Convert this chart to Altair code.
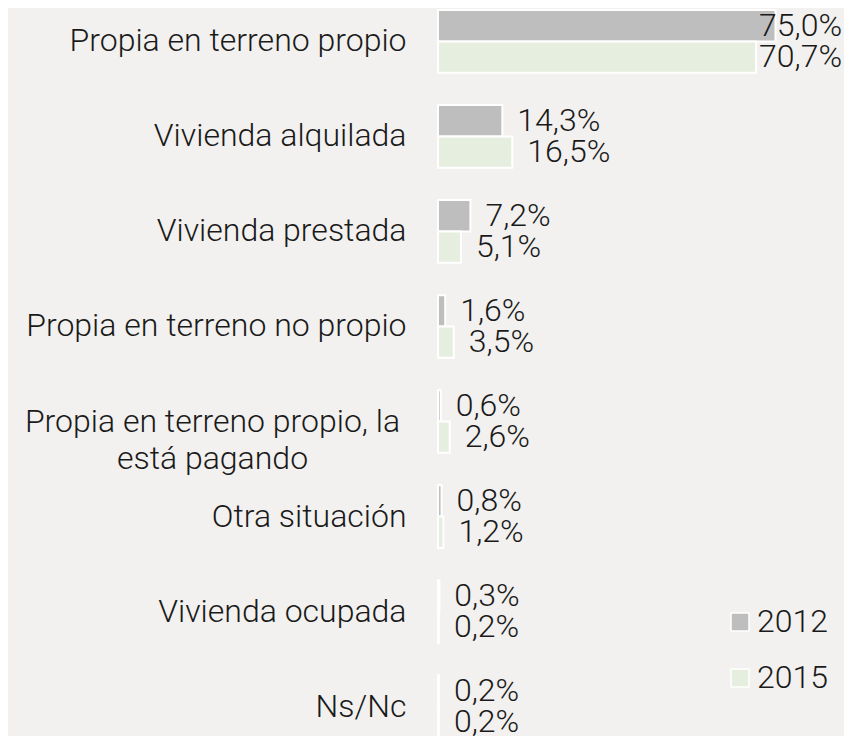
import altair as alt
import pandas as pd

categories = [
    "Propia en terreno propio",
    "Vivienda alquilada",
    "Vivienda prestada",
    "Propia en terreno no propio",
    "Propia en terreno propio, la\nestá pagando",
    "Otra situación",
    "Vivienda ocupada",
    "Ns/Nc",
]
years = ["2012", "2015"]
values_2012 = [75.0, 14.3, 7.2, 1.6, 0.6, 0.8, 0.3, 0.2]
values_2015 = [70.7, 16.5, 5.1, 3.5, 2.6, 1.2, 0.2, 0.2]
colors = ["#bebebe", "#e6eedf"]

rows = []
for c, a, b in zip(categories, values_2012, values_2015):
    rows.append({"cat": c, "year": years[0], "value": a})
    rows.append({"cat": c, "year": years[1], "value": b})
df = pd.DataFrame(rows)

FONT = "Roboto"
WEIGHT = 300
TXT = "#1a1a1a"

multi = "indexof(datum.value, '\\n') >= 0"

y_enc = alt.Y(
    "cat:N",
    sort=categories,
    scale=alt.Scale(paddingInner=0.34, paddingOuter=0.022, range=[0, 732]),
    axis=alt.Axis(
        title=None,
        ticks=False,
        domain=False,
        labelPadding={"condition": {"test": multi, "value": 226}, "value": 32},
        labelAlign={"condition": {"test": multi, "value": "center"}, "value": "right"},
        labelFontSize=32,
        labelFont=FONT,
        labelFontWeight=WEIGHT,
        labelColor=TXT,
        labelLimit=500,
        labelLineHeight=37,
        labelExpr="split(datum.label, '\\n')",
    ),
)
yoff = alt.YOffset("year:N", sort=years, scale=alt.Scale(paddingInner=0, paddingOuter=0))
x_scale = alt.Scale(domain=[0, 90], nice=False, zero=True)

base = alt.Chart(df)

bars = base.mark_bar(stroke="white", strokeWidth=2, cornerRadius=0).encode(
    y=y_enc,
    yOffset=yoff,
    x=alt.X("value:Q", scale=x_scale, axis=None),
    color=alt.Color(
        "year:N",
        sort=years,
        scale=alt.Scale(domain=years, range=colors),
        legend=alt.Legend(
            orient="none",
            legendX=286,
            legendY=598,
            title=None,
            symbolType="square",
            symbolSize=324,
            symbolStrokeColor="white",
            symbolStrokeWidth=1.5,
            symbolOpacity=1,
            labelFontSize=32,
            labelFont=FONT,
            labelFontWeight=WEIGHT,
            labelColor=TXT,
            rowPadding=24,
            labelOffset=1,
            padding=0,
        ),
    ),
)

labels = base.transform_calculate(
    lx="min(datum.value, 68.0)",
    txt="replace(format(datum.value, '.1f'), '.', ',') + '%'",
).mark_text(
    align="left", baseline="middle", dx=15, fontSize=32, font=FONT,
    fontWeight=WEIGHT, color=TXT
).encode(
    y=alt.Y("cat:N", sort=categories),
    yOffset=alt.YOffset("year:N", sort=years),
    x=alt.X("lx:Q", scale=x_scale),
    text="txt:N",
)

chart = (
    alt.layer(bars, labels)
    .properties(
        width=405,
        height=728,
        padding={"left": 430, "top": 0, "right": 1, "bottom": 0},
        autosize=alt.AutoSizeParams(type="none"),
        background="#f2f1ef",
    )
    .configure_view(stroke=None)
)

chart.save("out.html", embed_options={"renderer": "svg", "actions": False})
